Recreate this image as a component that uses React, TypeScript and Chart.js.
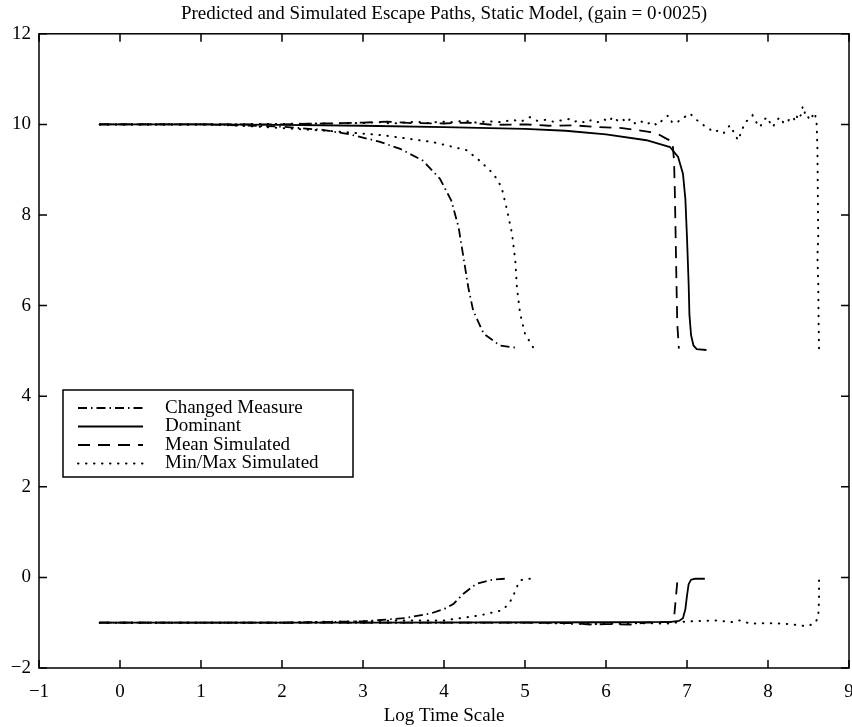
import React, { useEffect, useRef } from "react";
import { Chart, registerables } from "chart.js";

Chart.register(...registerables);

const TITLE = "Predicted and Simulated Escape Paths, Static Model, (gain = 0\u00b70025)";
const X_LABEL = "Log Time Scale";
const X_TICKS = [-1, 0, 1, 2, 3, 4, 5, 6, 7, 8, 9];
const Y_TICKS = [-2, 0, 2, 4, 6, 8, 10, 12];
const LEGEND_LABELS = ["Changed Measure", "Dominant", "Mean Simulated", "Min/Max Simulated"];

type P = [number, number];

// Changed Measure (dash-dot)
const changedUpper: P[] = [
  [-0.25, 10], [1, 10], [1.5, 9.98], [2, 9.95], [2.5, 9.88], [2.84, 9.78], [3.2, 9.62], [3.46, 9.46],
  [3.74, 9.2], [3.95, 8.8], [4.09, 8.32], [4.18, 7.73], [4.24, 7.07], [4.3, 6.4], [4.36, 5.89],
  [4.49, 5.38], [4.69, 5.12], [4.88, 5.07],
];
const changedLower: P[] = [
  [-0.25, -1], [2, -1], [3, -0.97], [3.5, -0.9], [3.83, -0.8], [4.0, -0.7], [4.12, -0.58],
  [4.24, -0.36], [4.4, -0.14], [4.6, -0.05], [4.75, -0.03],
];

// Dominant (solid)
const dominantUpper: P[] = [
  [-0.25, 10], [1, 10], [2, 9.99], [3, 9.97], [4, 9.94], [5, 9.9], [5.5, 9.86], [6, 9.78],
  [6.5, 9.65], [6.79, 9.5], [6.89, 9.28], [6.95, 8.91], [6.98, 8.35], [7.0, 7.5], [7.02, 6.5],
  [7.03, 5.8], [7.05, 5.35], [7.08, 5.12], [7.12, 5.04], [7.24, 5.02],
];
const dominantLower: P[] = [
  [-0.25, -1], [3, -1], [6, -0.99], [6.8, -0.98], [6.9, -0.96], [6.95, -0.9], [6.98, -0.7],
  [7.0, -0.4], [7.02, -0.15], [7.05, -0.05], [7.1, -0.03], [7.22, -0.03],
];

// Mean Simulated (dashed)
const meanUpper: P[] = [
  [-0.25, 10], [1, 10], [2, 10.0], [2.5, 10.02], [3, 10.04], [3.3, 10.06], [3.6, 10.03], [4, 10.02],
  [4.3, 10.04], [4.6, 9.99], [5, 10.0], [5.3, 9.97], [5.6, 9.98], [5.9, 9.94], [6.2, 9.92],
  [6.4, 9.87], [6.55, 9.83], [6.65, 9.78], [6.75, 9.68], [6.82, 9.62], [6.84, 9.2], [6.85, 8.5],
  [6.86, 7.5], [6.87, 6.5], [6.88, 5.6], [6.9, 5.05],
];
const meanLower: P[] = [
  [-0.25, -1], [3, -1], [5, -1], [5.6, -1.01], [5.8, -1.04], [6.0, -1.03], [6.3, -1.04],
  [6.5, -1.0], [6.8, -0.98], [6.84, -0.9], [6.86, -0.5], [6.88, -0.1], [6.9, -0.03],
];

// Min/Max Simulated (dotted)
const minUpper: P[] = [
  [-0.25, 10], [1, 10], [1.5, 9.97], [2, 9.92], [2.63, 9.85], [3.25, 9.76], [3.86, 9.61],
  [4.28, 9.43], [4.44, 9.2], [4.61, 8.91], [4.71, 8.62], [4.77, 8.17], [4.84, 7.59], [4.88, 7.0],
  [4.9, 6.41], [4.94, 5.82], [5.0, 5.38], [5.1, 5.08],
];
const maxUpper: P[] = [
  [-0.25, 10], [1, 10], [2, 10.01], [2.5, 10.02], [3, 10.03], [3.2, 10.05], [3.35, 10.02],
  [3.5, 10.04], [3.65, 10.06], [3.8, 10.03], [3.95, 10.06], [4.1, 10.05], [4.25, 10.08],
  [4.4, 10.04], [4.55, 10.07], [4.7, 10.05], [4.85, 10.1], [4.95, 10.06], [5.06, 10.16],
  [5.15, 10.08], [5.25, 10.1], [5.35, 10.06], [5.45, 10.09], [5.55, 10.12], [5.6, 10.06],
  [5.68, 10.08], [5.75, 10.03], [5.82, 10.1], [5.9, 10.05], [5.97, 10.12], [6.03, 10.06],
  [6.09, 10.17], [6.15, 10.07], [6.2, 10.12], [6.26, 10.04], [6.3, 10.13], [6.36, 10.02],
  [6.42, 10.08], [6.5, 10.0], [6.57, 10.06], [6.63, 9.98], [6.7, 10.1], [6.77, 10.2],
  [6.82, 10.03], [6.88, 10.05], [6.95, 10.14], [7.04, 10.24], [7.1, 10.12], [7.16, 10.05],
  [7.22, 9.96], [7.28, 9.9], [7.32, 9.83], [7.38, 9.86], [7.45, 9.8], [7.5, 9.92], [7.53, 9.98],
  [7.58, 9.82], [7.63, 9.65], [7.68, 9.88], [7.72, 10.05], [7.77, 10.12], [7.81, 10.2],
  [7.85, 10.06], [7.9, 9.94], [7.95, 10.1], [7.99, 10.16], [8.03, 10.02], [8.06, 9.94],
  [8.1, 10.08], [8.15, 10.16], [8.19, 10.04], [8.23, 10.02], [8.27, 10.14], [8.31, 10.16],
  [8.34, 10.06], [8.37, 10.24], [8.4, 10.18], [8.43, 10.4], [8.46, 10.22], [8.48, 10.24],
  [8.51, 10.1], [8.54, 10.13], [8.56, 10.26], [8.58, 10.24], [8.6, 10.02], [8.61, 9.5],
  [8.615, 8.5], [8.62, 7.5], [8.61, 7.1], [8.62, 6.5], [8.625, 5.6], [8.63, 5.05],
];
const minLower: P[] = [
  [-0.25, -1], [2, -1], [2.5, -0.98], [3, -0.97], [3.5, -0.95], [4, -0.95], [4.44, -0.84],
  [4.71, -0.73], [4.78, -0.62], [4.84, -0.47], [4.9, -0.21], [4.94, -0.07], [5.0, -0.03],
  [5.1, -0.03],
];
const maxLower: P[] = [
  [-0.25, -1], [3, -1], [5, -1], [5.8, -1.03], [6.2, -1.02], [6.5, -1.01], [6.75, -1.02],
  [6.95, -0.98], [7.16, -0.96], [7.37, -0.95], [7.57, -0.99], [7.65, -0.95], [7.78, -1.02],
  [7.99, -1.01], [8.19, -1.02], [8.3, -1.04], [8.4, -1.06], [8.48, -1.08], [8.58, -1.01],
  [8.62, -0.88], [8.63, -0.5], [8.63, -0.07],
];

const DASH_DOT = [9, 4, 1.5, 4];
const SOLID: number[] = [];
const DASHED = [12, 8];
const DOTTED = [0.5, 7.5];
const STYLES = [DASH_DOT, SOLID, DASHED, DOTTED];

const FONT = "'Liberation Serif', 'Times New Roman', serif";

function ds(points: P[], dash: number[], label: string) {
  return {
    label,
    data: points.map(([x, y]) => ({ x, y })),
    borderColor: "#000",
    backgroundColor: "#000",
    borderWidth: dash === DOTTED ? 2 : 1.8,
    borderDash: dash,
    borderCapStyle: dash === DOTTED ? "round" : "butt",
    pointRadius: 0,
    fill: false,
    tension: 0,
  };
}

const frameTicks = {
  id: "frameTicks",
  afterDraw(chart: any) {
    const { ctx, chartArea: a, scales } = chart;
    const len = 8;
    ctx.save();
    ctx.strokeStyle = "#000";
    ctx.lineWidth = 1.5;
    ctx.setLineDash([]);
    ctx.strokeRect(a.left, a.top, a.right - a.left, a.bottom - a.top);
    ctx.beginPath();
    for (const v of X_TICKS) {
      const px = scales.x.getPixelForValue(v);
      ctx.moveTo(px, a.bottom);
      ctx.lineTo(px, a.bottom - len);
      ctx.moveTo(px, a.top);
      ctx.lineTo(px, a.top + len);
    }
    for (const v of Y_TICKS) {
      const py = scales.y.getPixelForValue(v);
      ctx.moveTo(a.left, py);
      ctx.lineTo(a.left + len, py);
      ctx.moveTo(a.right, py);
      ctx.lineTo(a.right - len, py);
    }
    ctx.stroke();
    ctx.restore();
  },
};

const boxLegend = {
  id: "boxLegend",
  afterDraw(chart: any) {
    const { ctx, chartArea: a } = chart;
    const left = a.left + 24;
    const top = 390;
    const w = 290;
    const h = 87;
    ctx.save();
    ctx.fillStyle = "#fff";
    ctx.fillRect(left, top, w, h);
    ctx.strokeStyle = "#000";
    ctx.lineWidth = 1.5;
    ctx.setLineDash([]);
    ctx.strokeRect(left, top, w, h);
    ctx.font = `19px ${FONT}`;
    ctx.textBaseline = "middle";
    ctx.textAlign = "left";
    ctx.fillStyle = "#000";
    LEGEND_LABELS.forEach((label, i) => {
      const y = top + 18 + i * 18.5;
      const dash = STYLES[i];
      ctx.beginPath();
      ctx.setLineDash(dash);
      ctx.lineWidth = dash === DOTTED ? 2 : 1.8;
      ctx.lineCap = dash === DOTTED ? "round" : "butt";
      ctx.moveTo(left + 15, y);
      ctx.lineTo(left + 80, y);
      ctx.stroke();
      ctx.setLineDash([]);
      ctx.fillText(label, left + 102, y);
    });
    ctx.restore();
  },
};

export default function App() {
  const ref = useRef<HTMLCanvasElement | null>(null);
  useEffect(() => {
    if (!ref.current) return;
    Chart.defaults.font.family = FONT;
    Chart.defaults.color = "#000";
    const chart = new Chart(ref.current, {
      type: "line",
      data: {
        datasets: [
          ds(changedUpper, DASH_DOT, LEGEND_LABELS[0]),
          ds(changedLower, DASH_DOT, LEGEND_LABELS[0]),
          ds(dominantUpper, SOLID, LEGEND_LABELS[1]),
          ds(dominantLower, SOLID, LEGEND_LABELS[1]),
          ds(meanUpper, DASHED, LEGEND_LABELS[2]),
          ds(meanLower, DASHED, LEGEND_LABELS[2]),
          ds(minUpper, DOTTED, LEGEND_LABELS[3]),
          ds(maxUpper, DOTTED, LEGEND_LABELS[3]),
          ds(minLower, DOTTED, LEGEND_LABELS[3]),
          ds(maxLower, DOTTED, LEGEND_LABELS[3]),
        ] as any,
      },
      options: {
        animation: false,
        responsive: true,
        maintainAspectRatio: false,
        layout: { padding: { left: 0, right: 3, top: 0, bottom: 0 } },
        plugins: {
          legend: { display: false },
          tooltip: { enabled: false },
          title: {
            display: true,
            fullSize: false,
            text: TITLE,
            color: "#000",
            font: { size: 19, weight: "normal", family: FONT },
            padding: { top: 3, bottom: 8 },
          },
        },
        scales: {
          x: {
            type: "linear",
            min: -1,
            max: 9,
            afterFit: (s: any) => { s.height = 59; s.paddingLeft = 0; s.paddingRight = 0; },
            afterBuildTicks: (s: any) => { s.ticks = X_TICKS.map((v) => ({ value: v })); },
            ticks: {
              padding: 13,
              font: { size: 19, family: FONT },
              color: "#000",
              callback: (v: any) => String(v).replace("-", "\u2212"),
            },
            grid: { display: false, drawTicks: false },
            border: { display: false },
            title: {
              display: true,
              text: X_LABEL,
              color: "#000",
              font: { size: 19, family: FONT },
              padding: { top: 0, bottom: 0 },
            },
          },
          y: {
            type: "linear",
            min: -2,
            max: 12,
            afterFit: (s: any) => { s.width = 39; s.paddingTop = 0; s.paddingBottom = 0; },
            afterBuildTicks: (s: any) => { s.ticks = Y_TICKS.map((v) => ({ value: v })); },
            ticks: {
              padding: 8,
              font: { size: 19, family: FONT },
              color: "#000",
              callback: (v: any) => String(v).replace("-", "\u2212"),
            },
            grid: { display: false, drawTicks: false },
            border: { display: false },
          },
        },
      },
      plugins: [frameTicks, boxLegend],
    } as any);
    return () => chart.destroy();
  }, []);
  return (
    <div style={{ position: "fixed", left: 0, top: 0, width: 852, height: 727, background: "#fff" }}>
      <canvas ref={ref} />
    </div>
  );
}
